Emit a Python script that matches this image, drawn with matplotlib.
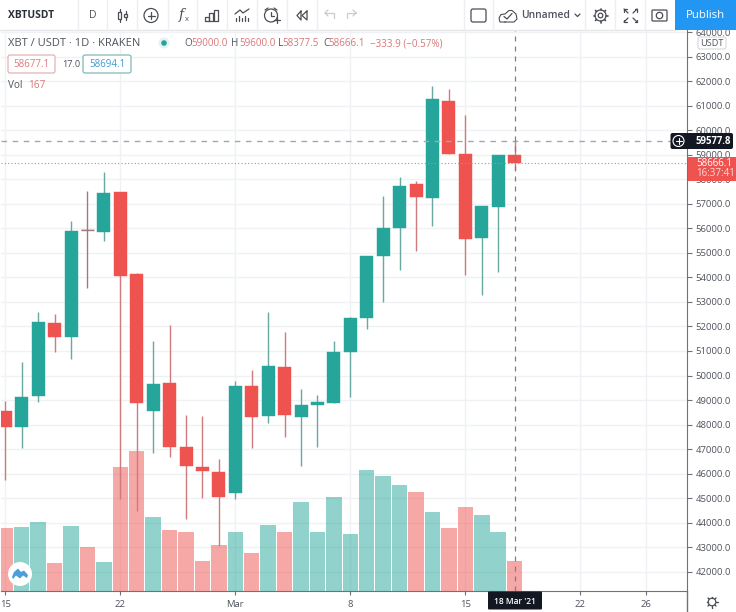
import matplotlib
matplotlib.use("Agg")
import matplotlib.pyplot as plt
from matplotlib.patches import Rectangle, FancyBboxPatch, Circle, Polygon

plt.rcParams["font.family"] = ["Open Sans", "DejaVu Sans"]

# Daily candles, 15 Feb to 18 Mar 2021
opens = [48571, 47918, 49171, 52139, 51567, 55950, 55853, 57469, 54122, 48547, 49714,
         47077, 46286, 46069, 45200, 49592, 48355, 50343, 48327, 48792, 48886, 50955,
         52327, 54857, 56000, 57824, 57253, 61184, 59047, 55608, 56886, 59000]
highs = [48980, 50571, 52600, 52506, 56314, 57539, 58314, 57500, 54180, 51388, 52041,
         48408, 48355, 46600, 49784, 50233, 52571, 51755, 49445, 49224, 51416, 52370,
         54890, 57335, 58082, 57947, 61796, 61702, 60641, 56920, 59010, 59600]
lows = [45743, 47061, 48939, 50939, 50682, 53580, 55469, 44967, 44490, 46857, 46694,
        44139, 45008, 43061, 44955, 47061, 48082, 47510, 46327, 47102, 48860, 49143,
        51894, 52980, 54286, 55061, 56110, 59037, 54082, 53294, 54204, 58377.5]
closes = [47918, 49130, 52163, 51567, 55906, 55920, 57445, 54041, 48898, 49661, 47077,
          46314, 46098, 45049, 49592, 48314, 50408, 48396, 48804, 48914, 50967, 52343,
          54873, 56000, 57743, 57282, 61282, 59037, 55580, 56898, 58996, 58666.1]
volumes = [347, 351, 378, 156, 357, 242, 160, 680, 764, 406, 335, 322, 167, 253, 325, 207,
           362, 325, 488, 322, 513, 313, 661, 631, 580, 542, 433, 346, 460, 418, 325, 167]

x_tick_days = [0, 7, 14, 21, 28, 35, 39]
x_tick_labels = ["15", "22", "Mar", "8", "15", "22", "26"]
price_ticks = list(range(42000, 65000, 1000))

crosshair_day = 31
crosshair_price = 59577.8
last_price = 58666.1

GREEN = "#26a69a"
RED = "#ef5350"
GREY = "#50535e"
GRID = "#eff1f4"
AXIS = "#6f7278"
DARK = "#131722"
ICON = "#4a4d55"

W, H = 736, 612
PLOT_L, PLOT_R, PLOT_T, PLOT_B = 1, 687, 30, 591.3
VOL_SCALE = 7.475  # price units per unit of volume, so that bars sit in the lower part

fig = plt.figure(figsize=(W / 100, H / 100), dpi=100, facecolor="white")
ax = fig.add_axes([PLOT_L / W, 1 - PLOT_B / H, (PLOT_R - PLOT_L) / W, (PLOT_B - PLOT_T) / H])
y_min, y_max = 41200, 64090
ax.set_xlim(-0.262, 41.49)
ax.set_ylim(y_min, y_max)

days = list(range(len(opens)))
up = [c >= o for o, c in zip(opens, closes)]
body_colors = [GREEN if u else RED for u in up]
wick_colors = ["#6aa8a2" if u else "#cf7a7c" for u in up]
wick_colors[5] = "#a5787e"

ax.bar(days, [v * VOL_SCALE for v in volumes], bottom=y_min, width=0.94,
       color=body_colors, alpha=0.5, linewidth=0, zorder=2)
ax.vlines(days, lows, highs, colors=wick_colors, linewidth=1, zorder=3)
ax.bar(days, [abs(c - o) for o, c in zip(opens, closes)],
       bottom=[min(o, c) for o, c in zip(opens, closes)], width=0.79,
       color=body_colors, edgecolor=body_colors, linewidth=0.3, zorder=4)
ax.hlines(closes[5], 5 - 0.39, 5 + 0.39, colors=wick_colors[5], linewidth=1, zorder=4)

ax.axhline(last_price, color="#9a9a9a", linewidth=0.8, linestyle=(0, (1, 2)), zorder=5)
ax.axhline(crosshair_price, color="#a3a7ad", linewidth=1, linestyle=(0, (4, 4)), zorder=5)
ax.axvline(crosshair_day, color="#7b8087", linewidth=0.9, linestyle=(0, (4, 4)), zorder=5)

ax.yaxis.tick_right()
ax.set_yticks(price_ticks)
ax.set_yticklabels(["%.1f" % p for p in price_ticks])
ax.set_xticks(x_tick_days)
ax.set_xticklabels(x_tick_labels)
ax.tick_params(axis="y", length=3.5, width=0.8, color=AXIS, labelcolor=GREY, labelsize=6.8, pad=2.5)
ax.tick_params(axis="x", length=3, width=0.8, color=AXIS, labelcolor=GREY, labelsize=6.8, pad=3.5)
ax.grid(True, color=GRID, linewidth=1)
ax.set_axisbelow(True)
for side in ["top", "left"]:
    ax.spines[side].set_visible(False)
ax.spines["right"].set_color(AXIS)
ax.spines["bottom"].set_color(AXIS)

# overlay in pixel coordinates for the TradingView interface
ui = fig.add_axes([0, 0, 1, 1], zorder=10)
ui.set_xlim(0, W)
ui.set_ylim(H, 0)
ui.axis("off")


def line(xs, ys, color=ICON, lw=0.9, z=4):
    ui.plot(xs, ys, color=color, linewidth=lw, solid_capstyle="round", zorder=z)


def rounded(x0, y0, x1, y1, face="white", edge="none", lw=0.8, rad=2, z=3):
    ui.add_patch(FancyBboxPatch((x0 + rad, y0 + rad), x1 - x0 - 2 * rad, y1 - y0 - 2 * rad,
                                boxstyle="round,pad=%d" % rad, facecolor=face, edgecolor=edge,
                                linewidth=lw, zorder=z))


def label(x, y, s, color=GREY, size=7.2, ha="left", weight="normal", z=6):
    ui.text(x, y, s, color=color, fontsize=size, ha=ha, va="center", fontweight=weight, zorder=z)


def circle(x, y, r, edge=ICON, face="none", lw=0.9, z=5):
    ui.add_patch(Circle((x, y), r, edgecolor=edge, facecolor=face, linewidth=lw, zorder=z))


# toolbar
ui.add_patch(Rectangle((0, 0), W, 29.5, facecolor="white", edgecolor="none", zorder=1))
line([0, 675], [30, 30], "#e4e6ea", 1, z=2)
for sx in [78, 107, 137, 168, 197, 227, 257, 287, 317, 464, 493, 585, 615, 645]:
    line([sx, sx], [0, 30], "#eceef1", 1, z=2)
ui.add_patch(Rectangle((675, 0), 61, 30, facecolor="#2196f3", edgecolor="none", zorder=2))
label(705, 15.5, "Publish", "white", 8.2, "center")
label(8, 15.5, "XBTUSDT", "#2a2e39", 7.4, weight="bold")
label(93, 15.5, "D", GREY, 7.6, "center")

# candle icon
for cx, y0, y1 in [(119.5, 9, 22), (125.5, 11, 20)]:
    line([cx, cx], [y0, y1])
    ui.add_patch(Rectangle((cx - 1.7, y0 + 3), 3.4, y1 - y0 - 6, facecolor="white", edgecolor=ICON, linewidth=0.9, zorder=4))
# add indicator icon
circle(151, 15.5, 7)
line([147.5, 154.5], [15.5, 15.5])
line([151, 151], [12, 19])
# fx icon
ui.text(181, 15, "f", color=ICON, fontsize=10, ha="center", va="center", style="italic", family="DejaVu Serif")
label(185, 19.5, "x", ICON, 5.5)
# bars icon
line([205, 205, 208.5, 208.5, 205], [21, 16.5, 16.5, 21, 21])
line([209, 209, 212.5, 212.5, 209], [21, 12.5, 12.5, 21, 21])
line([213.5, 213.5, 217.5, 217.5, 213.5], [21, 9.5, 9.5, 21, 21])
# indicator template icon
line([235, 240, 243, 249], [14, 10, 13, 9])
for bx, by in [(236, 18), (239, 16), (242, 18), (245, 16), (248, 18)]:
    line([bx, bx], [by, 21])
# alarm icon
circle(271, 15.5, 6.5)
line([271, 271, 274], [12, 16, 16])
line([265, 268], [10, 8])
line([274, 277], [8, 10])
line([277, 277], [17, 23])
line([274, 280], [20, 20])
# rewind icon
line([301, 297, 301, 301], [11, 15.5, 20, 11])
line([307, 302, 307, 307], [11, 15.5, 20, 11])
# undo / redo
line([325, 329, 334, 334], [13, 13, 13, 18], "#c9cbd0")
line([325, 328], [13, 10], "#c9cbd0")
line([325, 328], [13, 16], "#c9cbd0")
line([356, 352, 347, 347], [13, 13, 13, 18], "#c9cbd0")
line([356, 353], [13, 10], "#c9cbd0")
line([356, 353], [13, 16], "#c9cbd0")
# layout square
rounded(471, 9, 486, 22, edge=ICON, lw=0.9, rad=2)
# cloud and save name
line([505, 500, 499, 501, 505, 509, 512, 516, 517, 514, 505],
     [22, 22, 18, 14.5, 14, 10.5, 10.5, 14, 19, 22, 22], lw=0.8)
line([504, 507, 512], [16.5, 19, 13.5])
label(521, 15.5, "Unnamed", GREY, 7.4, weight="semibold")
line([575, 577.5, 580], [14, 16.5, 14])
# gear
circle(600.5, 15.5, 5.5)
circle(600.5, 15.5, 2.3)
for dx, dy in [(0, 7), (0, -7), (7, 0), (-7, 0), (5, 5), (-5, 5), (5, -5), (-5, -5)]:
    line([600.5 + dx * 0.8, 600.5 + dx], [15.5 + dy * 0.8, 15.5 + dy], ICON, 1.2)
# fullscreen corners
for sx, sy in [(-1, -1), (1, -1), (-1, 1), (1, 1)]:
    cx, cy = 630.5 + sx * 2.5, 15.5 + sy * 2.5
    line([cx, cx + sx * 4], [cy, cy + sy * 4])
    line([cx + sx * 1.5, cx + sx * 4, cx + sx * 4], [cy + sy * 4, cy + sy * 4, cy + sy * 1.5])
# camera
rounded(652, 10, 667, 21, edge=ICON, lw=0.9, rad=1)
circle(659.5, 15.5, 3.2, face="white")

# legend rows
label(8, 43, "XBT / USDT · 1D · KRAKEN", GREY, 8)
circle(164, 43, 5.5, edge="none", face="#e3f3f1")
circle(164, 43, 2.8, edge="none", face=GREEN)
PINK = "#d9777a"
for lx, vx, letter, value in [(184, 191, "O", "59000.0"), (231, 239.5, "H", "59600.0"),
                              (277.7, 282.7, "L", "58377.5"), (323, 328, "C", "58666.1")]:
    label(lx, 43.5, letter, GREY, 7.1)
    label(vx, 43.5, value, PINK, 7.1)
label(370, 43.5, "−333.9 (−0.57%)", PINK, 7.1)
rounded(8, 55, 55, 73, edge="#e3a8aa", lw=0.8)
label(31.5, 64.5, "58677.1", "#e0787b", 7, "center")
label(62, 64.5, "17.0", GREY, 6.6)
rounded(83, 55, 131, 73, edge="#6fb3ad", lw=0.8)
label(107, 64.5, "58694.1", "#3d9ad6", 7, "center")
label(8, 86, "Vol", GREY, 7.2)
label(28, 86, "167", PINK, 7.2)

# price scale extras
rounded(698, 37, 726, 49, edge="#d6d8dc", lw=0.8, rad=2)
label(712, 43.3, "USDT", GREY, 6.6, "center")

ui.add_patch(Rectangle((687.5, 157), 48.5, 23.5, facecolor=RED, edgecolor="none", zorder=5))
label(696, 163.5, "58666.1", "white", 7)
label(696, 174, "16:37:41", "#fbdcdc", 7)
rounded(670.5, 133, 733, 149, face=DARK, rad=2, z=5)
circle(678.5, 141, 5.5, edge="white", lw=0.8, z=6)
line([675.5, 681.5], [141, 141], "white", 0.8, z=7)
line([678.5, 678.5], [138, 144], "white", 0.8, z=7)
label(695, 141.3, "59577.8", "white", 6.9, weight="bold")

# time scale extras
rounded(488, 591.5, 542, 609.5, face=DARK, rad=1, z=5)
label(515, 601, "18 Mar '21", "white", 6, "center", weight="semibold")
line([687, 687], [591, 612], AXIS, 1)
circle(712, 602, 3.8, lw=0.9)
for dx, dy in [(0, 5.5), (0, -5.5), (5.5, 0), (-5.5, 0), (4, 4), (-4, 4), (4, -4), (-4, -4)]:
    line([712 + dx * 0.75, 712 + dx], [602 + dy * 0.75, 602 + dy], ICON, 1)

# logo badge
circle(20, 574, 12, edge="none", face="white", z=7)
ui.add_patch(Polygon([(12, 577), (14, 572), (18, 568.5), (21, 572), (24, 570.5), (28, 575),
                      (27, 578), (23, 575.5), (20, 578.5), (16, 575.5), (13, 579)],
                     closed=True, facecolor="#4a9ee0", edgecolor="none", zorder=8))

fig.savefig("out.png", dpi=100)
